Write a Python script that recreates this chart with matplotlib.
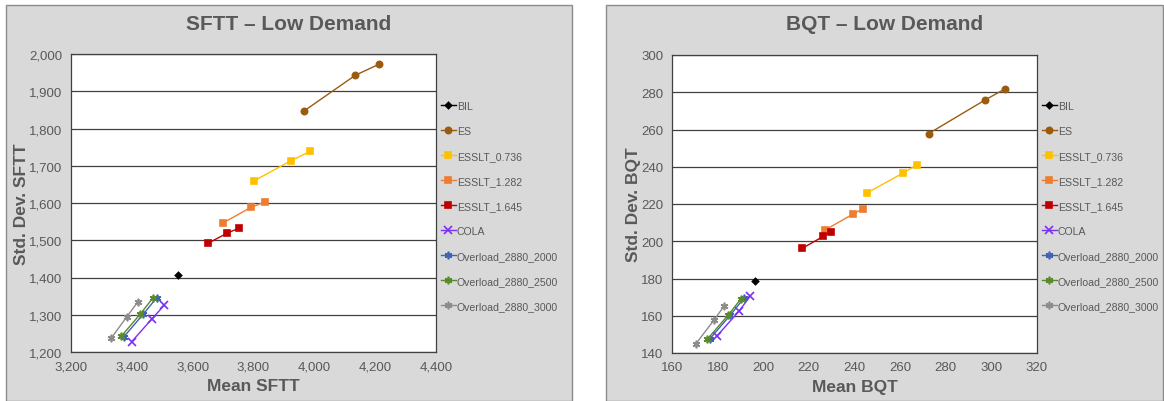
import matplotlib
matplotlib.use("Agg")
import matplotlib.pyplot as plt
from matplotlib.patches import Rectangle
from matplotlib.ticker import FuncFormatter

plt.rcParams['font.family'] = ['Liberation Sans', 'DejaVu Sans']

# series names (legend order)
series = ["BIL", "ES", "ESSLT_0.736", "ESSLT_1.282", "ESSLT_1.645", "COLA",
          "Overload_2880_2000", "Overload_2880_2500", "Overload_2880_3000"]

# SFTT - Low Demand: mean / std. dev.
sftt_mean = {
    "BIL": [3553],
    "ES": [3966, 4135, 4214],
    "ESSLT_0.736": [3803, 3922, 3987],
    "ESSLT_1.282": [3701, 3791, 3838],
    "ESSLT_1.645": [3651, 3713, 3751],
    "COLA": [3400, 3465, 3506],
    "Overload_2880_2000": [3374, 3437, 3482],
    "Overload_2880_2500": [3366, 3428, 3470],
    "Overload_2880_3000": [3333, 3383, 3420],
}
sftt_std = {
    "BIL": [1408],
    "ES": [1847, 1943, 1973],
    "ESSLT_0.736": [1660, 1713, 1739],
    "ESSLT_1.282": [1547, 1588, 1603],
    "ESSLT_1.645": [1492, 1519, 1532],
    "COLA": [1228, 1288, 1325],
    "Overload_2880_2000": [1241, 1301, 1346],
    "Overload_2880_2500": [1243, 1302, 1346],
    "Overload_2880_3000": [1238, 1294, 1335],
}

# BQT - Low Demand: mean / std. dev.
bqt_mean = {
    "BIL": [196.5],
    "ES": [272.5, 297.3, 306.1],
    "ESSLT_0.736": [245.4, 261.4, 267.6],
    "ESSLT_1.282": [226.9, 239.5, 243.6],
    "ESSLT_1.645": [217.1, 226.3, 229.7],
    "COLA": [179.6, 189.4, 194.2],
    "Overload_2880_2000": [176.6, 185.6, 191.5],
    "Overload_2880_2500": [175.4, 184.5, 190.2],
    "Overload_2880_3000": [170.5, 178.3, 183.0],
}
bqt_std = {
    "BIL": [178.4],
    "ES": [257.8, 275.9, 281.9],
    "ESSLT_0.736": [225.9, 236.7, 241.2],
    "ESSLT_1.282": [205.9, 214.7, 217.4],
    "ESSLT_1.645": [196.2, 202.6, 205.2],
    "COLA": [149.0, 162.5, 170.4],
    "Overload_2880_2000": [147.6, 160.4, 169.4],
    "Overload_2880_2500": [147.3, 160.2, 169.0],
    "Overload_2880_3000": [145.0, 157.5, 165.5],
}

styles = {
    "BIL": dict(color="#000000", marker="D", ms=3.2),
    "ES": dict(color="#9A5B0E", marker="o", ms=4.5),
    "ESSLT_0.736": dict(color="#FFC000", marker="s", ms=4.5),
    "ESSLT_1.282": dict(color="#ED7D31", marker="s", ms=4.5),
    "ESSLT_1.645": dict(color="#C00000", marker="s", ms=4.5),
    "COLA": dict(color="#7B2FF7", marker="x", ms=5.5),
    "Overload_2880_2000": dict(color="#3F63B5", marker=(6, 2, 0), ms=5.5),
    "Overload_2880_2500": dict(color="#5B8A2E", marker=(6, 2, 0), ms=5.5),
    "Overload_2880_3000": dict(color="#8C8C8C", marker=(6, 2, 0), ms=5.5),
}

W, H = 1164, 402
fig = plt.figure(figsize=(W / 100, H / 100), dpi=100)
txt = "#595959"


def fx(px):
    return px / W


def fy(py):
    return 1 - py / H


def panel(frame, plot, title, xlab, ylab, means, stds, xlim, xstep, ylim, ystep, fmt):
    fx0, fx1 = frame
    fig.patches.append(Rectangle((fx(fx0), 0), fx(fx1 - fx0), fy(6), transform=fig.transFigure,
                                 facecolor="#D9D9D9", edgecolor="#8C8C8C", lw=1, zorder=-5))
    x0, y0, x1, y1 = plot
    ax = fig.add_axes([fx(x0), fy(y1), fx(x1 - x0), (y1 - y0) / H])
    ax.set_facecolor("white")
    for name in series:
        st = styles[name]
        ax.plot(means[name], stds[name], color=st["color"], marker=st["marker"],
                markersize=st["ms"], lw=1.0, mew=1.2, label=name, clip_on=False)
    ax.set_xlim(*xlim)
    ax.set_ylim(*ylim)
    ax.set_xticks(range(xlim[0], xlim[1] + 1, xstep))
    ax.set_yticks(range(ylim[0], ylim[1] + 1, ystep))
    f = FuncFormatter(lambda v, p: fmt.format(v))
    ax.xaxis.set_major_formatter(f)
    ax.yaxis.set_major_formatter(f)
    ax.tick_params(length=0, labelsize=9.5, labelcolor=txt, pad=6)
    ax.grid(axis="y", color="#404040", lw=0.9)
    ax.set_axisbelow(True)
    for s in ax.spines.values():
        s.set_color("#404040")
        s.set_linewidth(0.9)
    ax.set_xlabel(xlab, fontsize=12.5, fontweight="bold", color=txt, labelpad=4)
    ax.set_ylabel(ylab, fontsize=12.5, fontweight="bold", color=txt, labelpad=0.5)
    fig.text(fx((fx0 + fx1) / 2), fy(24), title, fontsize=15, fontweight="bold",
             color=txt, ha="center", va="center")
    ax.legend(loc="upper left", bbox_to_anchor=(fx(x1 + 5), fy(102)),
              bbox_transform=fig.transFigure, frameon=False, fontsize=7.6,
              labelcolor=txt, handlelength=1.4, handletextpad=0.1,
              labelspacing=1.42, borderpad=0, borderaxespad=0, markerscale=1.0)
    return ax


panel((6, 572), (71, 55, 436, 353), "SFTT \u2013 Low Demand", "Mean SFTT", "Std. Dev. SFTT",
      sftt_mean, sftt_std, (3200, 4400), 200, (1200, 2000), 100, "{:,.0f}")
panel((606, 1163), (672, 56, 1037, 354), "BQT \u2013 Low Demand", "Mean BQT", "Std. Dev. BQT",
      bqt_mean, bqt_std, (160, 320), 20, (140, 300), 20, "{:.0f}")

fig.savefig("out.png", dpi=100)
